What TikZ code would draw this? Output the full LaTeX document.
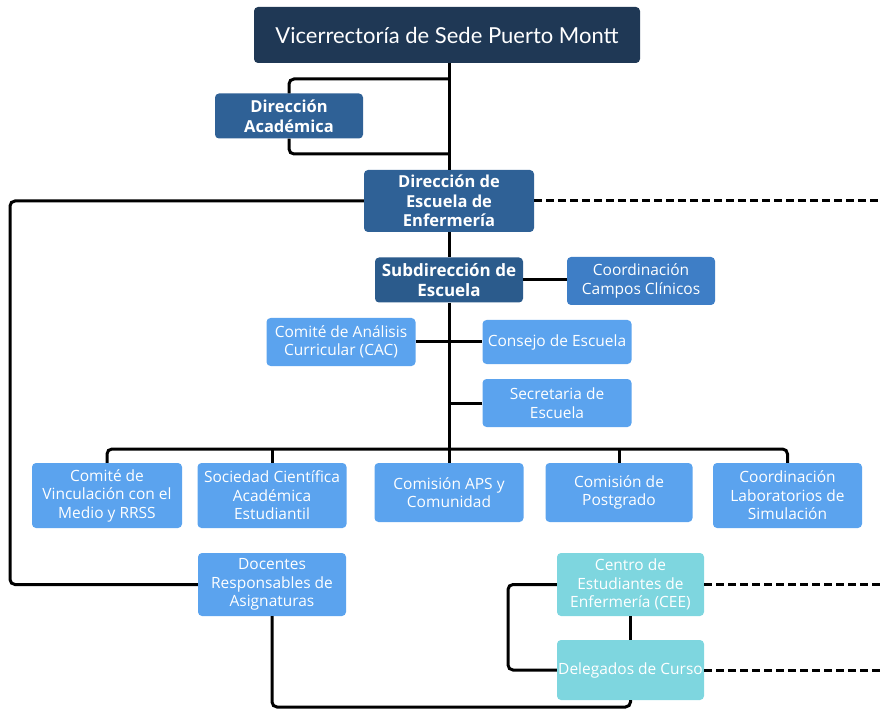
\documentclass[tikz,border=0pt]{standalone}
\usepackage{fontspec}
\setmainfont{Open Sans}
\newfontfamily\titlefont{Lato}
\newfontfamily\boldfont{Open Sans}
\definecolor{navy}{HTML}{1F3855}
\definecolor{midblue}{HTML}{2F6196}
\definecolor{subblue}{HTML}{2B5B8C}
\definecolor{coordblue}{HTML}{3E7EC6}
\definecolor{lightblue}{HTML}{5BA3EE}
\definecolor{cyanbox}{HTML}{7ED6DF}
\begin{document}
\begin{tikzpicture}[x=1pt,y=-1pt,
  box/.style={rounded corners=4pt, align=center, text=white, inner sep=0pt},
  darkbox/.style={box, fill=midblue, font=\boldfont\bfseries\fontsize{16.5}{19.5}\selectfont},
  lightbox/.style={box, fill=lightblue, font=\fontsize{15.5}{18.5}\selectfont},
  cyannode/.style={box, fill=cyanbox, font=\fontsize{15.5}{18.5}\selectfont},
  conn/.style={line width=3pt, black},
  rconn/.style={conn, rounded corners=5pt},
  dconn/.style={line width=3pt, black, dash pattern=on 8pt off 4pt}
]
\useasboundingbox (0,0) rectangle (881,711);

% nodes
\node[box, fill=navy, minimum width=386pt, minimum height=56pt,
      font=\titlefont\fontsize{22}{26}\selectfont] (top) at (447,35) {Vicerrectoría de Sede Puerto Montt};
\node[darkbox, minimum width=148pt, minimum height=45pt, font=\boldfont\bfseries\fontsize{16.5}{20}\selectfont] (da) at (289,116) {Dirección\\Académica};
\node[darkbox, minimum width=170pt, minimum height=62pt] (de) at (449,201) {Dirección de\\Escuela de\\Enfermería};
\node[darkbox, fill=subblue, minimum width=148pt, minimum height=45pt, font=\boldfont\bfseries\fontsize{17}{20}\selectfont] (sub) at (449,280) {Subdirección de\\Escuela};
\node[lightbox, fill=coordblue, minimum width=148pt, minimum height=48pt] (ccc) at (641,281) {Coordinación\\Campos Clínicos};
\node[lightbox, minimum width=149pt, minimum height=48pt] (cac) at (341,342) {Comité de Análisis\\Curricular (CAC)};
\node[lightbox, minimum width=149pt, minimum height=44pt] (cons) at (557,342) {Consejo de Escuela};
\node[lightbox, minimum width=149pt, minimum height=48pt] (sec) at (557,403) {Secretaria de\\Escuela};
\node[lightbox, minimum width=150pt, minimum height=65pt] (vinc) at (107,495.5) {Comité de\\Vinculación con el\\Medio y RRSS};
\node[lightbox, minimum width=149pt, minimum height=65pt] (soc) at (272,495.5) {Sociedad Científica\\Académica\\Estudiantil};
\node[lightbox, minimum width=149pt, minimum height=59pt] (aps) at (449,492.5) {Comisión APS y\\Comunidad};
\node[lightbox, minimum width=147pt, minimum height=59pt] (post) at (619,492.5) {Comisión de\\Postgrado};
\node[lightbox, minimum width=149pt, minimum height=65pt] (lab) at (787.5,495.5) {Coordinación\\Laboratorios de\\Simulación};
\node[lightbox, minimum width=148pt, minimum height=63pt] (doc) at (272,584.5) {Docentes\\Responsables de\\Asignaturas};
\node[cyannode, minimum width=147pt, minimum height=63pt] (cee) at (630.5,584.5) {Centro de\\Estudiantes de\\Enfermería (CEE)};
\node[cyannode, minimum width=147pt, minimum height=60pt] (del) at (630.5,670) {Delegados de Curso};

% helper coordinates
\coordinate (j1) at (449,79);
\coordinate (j2) at (449,154);
\coordinate (bus) at (449,449);
\coordinate (lft) at (10,0);
\coordinate (rim) at (881,0);
\coordinate (bot) at (0,707);
\coordinate (bl) at (508,0);

% connectors
\draw[conn] (de.north) -- (de.north |- top.south);
\draw[rconn] (j1) -| (da.north);
\draw[rconn] (da.south) |- (j2);
\draw[conn] (de.south) -- (sub.north);
\draw[conn] (sub.south) -- (aps.north);
\draw[conn] (sub.east) -- (sub.east -| ccc.west);
\draw[conn] (cac.east) -- (cons.west);
\draw[conn] (sec.west) -- (sec.west -| sub.south);
\draw[rconn] (vinc.north) |- (bus) -| (lab.north);
\draw[conn] (soc.north) -- (soc.north |- bus);
\draw[conn] (post.north) -- (post.north |- bus);
\draw[rconn] (de.west) -| (lft |- doc.west) -- (doc.west);
\draw[dconn] (de.east) -- (de.east -| rim);
\draw[rconn] (doc.south) |- (bot -| del.south) -- (del.south);
\draw[conn] (cee.south) -- (del.north);
\draw[rconn] (cee.west) -| (bl |- del.west) -- (del.west);
\draw[dconn] (cee.east) -- (cee.east -| rim);
\draw[dconn] (del.east) -- (del.east -| rim);
\end{tikzpicture}
\end{document}
